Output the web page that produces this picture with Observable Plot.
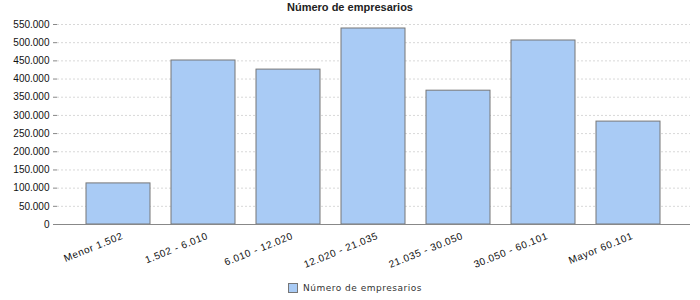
<!DOCTYPE html>
<html>
<head>
<meta charset="utf-8">
<script src="https://cdn.jsdelivr.net/npm/d3@7"></script>
<script src="https://cdn.jsdelivr.net/npm/@observablehq/plot@0.6"></script>
<style>
  body { margin: 0; background: #fff; }
  #wrap { position: relative; width: 700px; height: 300px; font-family: "Liberation Sans", Arial, sans-serif; }
  #title { position: absolute; top: 0; left: 0; width: 700px; text-align: center; font-weight: bold; font-size: 11px; line-height: 14px; color: #222; }
  #chart { position: absolute; top: 0; left: 0; }
  #legend { position: absolute; top: 283px; left: 288px; font-family: "DejaVu Sans", sans-serif; font-size: 9px; color: #333; letter-spacing: 0.5px; display: flex; align-items: center; }
  #legend .sw { width: 8px; height: 8px; background: #a9cbf5; border: 1px solid #777; margin-right: 5px; }
</style>
</head>
<body>
<div id="wrap">
  <div id="chart"></div>
  <div id="title">Número de empresarios</div>
  <div id="legend"><span class="sw"></span><span>Número de empresarios</span></div>
</div>
<script>
const categories = ["Menor 1.502", "1.502 - 6.010", "6.010 - 12.020", "12.020 - 21.035", "21.035 - 30.050", "30.050 - 60.101", "Mayor 60.101"];
const values = [113000, 451000, 426000, 539000, 368000, 506000, 283000];
const yTicks = [0, 50000, 100000, 150000, 200000, 250000, 300000, 350000, 400000, 450000, 500000, 550000];

const data = categories.map((c, i) => ({category: c, value: values[i]}));
const fmt = d3.formatLocale({decimal: ",", thousands: ".", grouping: [3], currency: ["", "€"]}).format(",d");

const chart = Plot.plot({
  width: 700,
  height: 270,
  marginTop: 24,
  marginBottom: 46,
  marginLeft: 57,
  marginRight: 10,
  style: {fontFamily: "Liberation Sans, Arial, sans-serif", fontSize: "10px", color: "#111"},
  x: {domain: categories, paddingInner: 0.247, paddingOuter: 0.347, label: null},
  y: {domain: [0, 550000], label: null},
  marks: [
    Plot.ruleY(yTicks.filter(d => d > 0), {stroke: "#d8d8d8", strokeDasharray: "2,2"}),
    Plot.barY(data, {x: "category", y: "value", fill: "#a9cbf5", stroke: "#777", strokeWidth: 1}),
    Plot.ruleY([0], {stroke: "#888"}),
    Plot.axisY({ticks: yTicks, tickFormat: fmt, tickSize: 4, tickPadding: 4, stroke: "#888", fontSize: 10}),
    Plot.axisX({tickSize: 0, tickPadding: 11, tickRotate: -22, fontSize: 10, dx: 4})
  ]
});
chart.querySelectorAll('g[aria-label="x-axis tick label"] text').forEach(t => t.setAttribute("letter-spacing", "0.6"));
document.getElementById("chart").appendChild(chart);
</script>
</body>
</html>
